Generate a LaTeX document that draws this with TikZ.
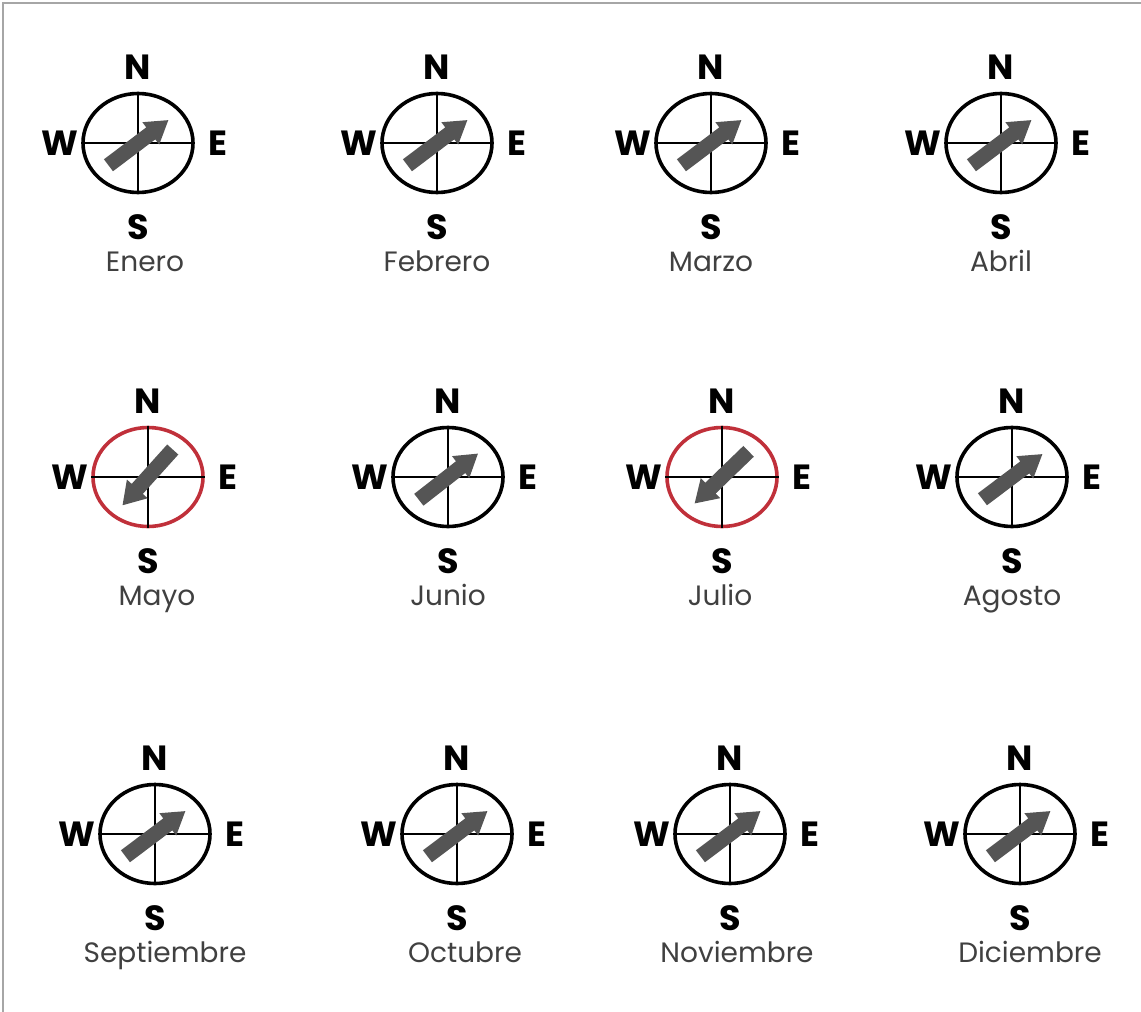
\documentclass[tikz,border=0pt]{standalone}
\usepackage{fontspec}
\setmainfont{Poppins}
\usetikzlibrary{shapes.geometric}
\definecolor{rimred}{HTML}{C0303A}
\definecolor{vanegray}{HTML}{555555}
\definecolor{captiongray}{HTML}{404040}

\begin{document}
\begin{tikzpicture}[
    x=1pt,y=-1pt,
    rim/.style={ellipse,draw,line width=3.6pt,inner sep=0pt,
        minimum width=110pt,minimum height=99pt},
    hair/.style={line width=1.3pt},
    vane/.style={fill=vanegray},
    point/.style={font=\bfseries\fontsize{35}{35}\selectfont,inner sep=0pt},
    month/.style={font=\fontsize{28}{28}\selectfont,text=captiongray,
        inner sep=0pt,anchor=base},
    frame/.style={line width=2pt,draw=black!35}
]
    \useasboundingbox (0,0) rectangle (1141,1012);
    \draw[frame] (3,1012) -- (3,3) -- (1141,3);

    % one wind rose per month: name/centre x/centre y/arrow angle/rim colour/label shift
    \foreach \month/\cx/\cy/\ang/\rimcol/\dx [count=\i] in {
        Enero/138/143/37/black/7, Febrero/437/143/37/black/0,
        Marzo/711/143/37/black/0, Abril/1001/143/37/black/0,
        Mayo/148/477/228/rimred/9, Junio/448/477/38/black/0,
        Julio/722/477/224/rimred/-2, Agosto/1012/477/37/black/0,
        Septiembre/155/834/37/black/10, Octubre/457/834/37/black/8,
        Noviembre/730/834/37/black/7, Diciembre/1020/834/37/black/10
    } {
        \node[rim,draw=\rimcol] (ring\i) at (\cx,\cy) {};
        \draw[hair] (ring\i.west) -- (ring\i.east);
        \draw[hair] (ring\i.north) -- (ring\i.south);
        \fill[vane,shift={(\cx,\cy)},rotate=\ang]
            (-37,-7.5) -- (16,-7.5) -- (16,-14) -- (38,0) -- (16,14)
            -- (16,7.5) -- (-37,7.5) -- cycle;
        \node[point] (n\i) at (\cx,\cy-76) {N};
        \node[point] (s\i) at (\cx,\cy+84) {S};
        \node[point] (w\i) at (\cx-78,\cy) {W};
        \node[point] (e\i) at (\cx+80,\cy) {E};
        \node[month] (lab\i) at (\cx+\dx,\cy+128) {\month};
    }
\end{tikzpicture}
\end{document}
